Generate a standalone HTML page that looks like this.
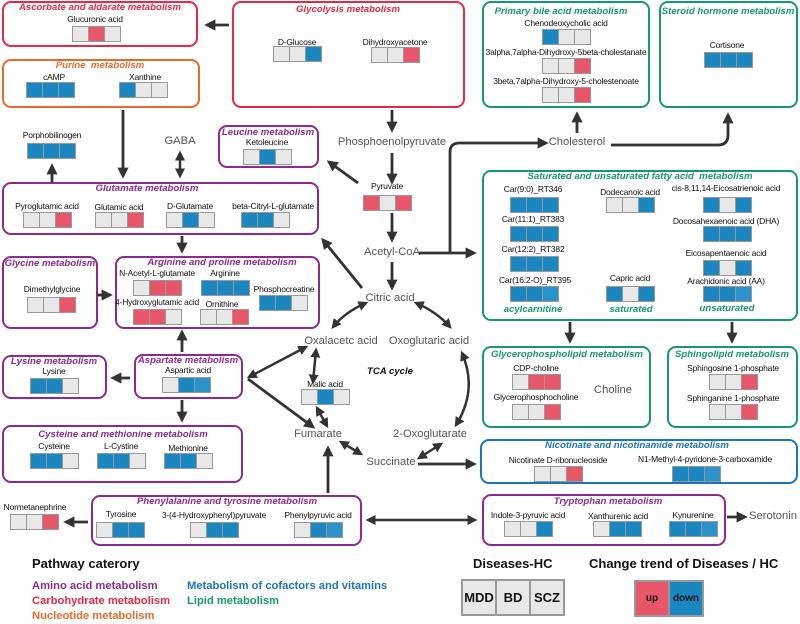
<!DOCTYPE html>
<html><head><meta charset="utf-8"><style>
*{margin:0;padding:0;box-sizing:border-box}
body{width:800px;height:624px;position:relative;background:#fff;font-family:"Liberation Sans",Arial,sans-serif;overflow:hidden}
.bx{position:absolute;border:2px solid;border-radius:9px}
.p{border-color:#8e2a8e}.r{border-color:#e62a45}.o{border-color:#e56a2c}.g{border-color:#16996b}.bl{border-color:#1b75bb}
.ti{position:absolute;transform:translateX(-50%);white-space:nowrap;font-weight:bold;font-style:italic;font-size:9.6px}
.cp{color:#8e2a8e}.cr{color:#e62a45}.co{color:#e56a2c}.cg{color:#16996b}.cb{color:#1b75bb}
.l{position:absolute;transform:translateX(-50%);white-space:nowrap;font-size:8.5px;color:#111;letter-spacing:-0.2px}
.m{position:absolute;transform:translateX(-50%);white-space:nowrap;font-size:11.2px;color:#555}
.t{position:absolute;display:flex;width:49px;height:16px;border:1px solid #999;background:#999;gap:1px}
.t i{flex:1;display:block}
.e{background:#e8e8e8}.d{background:#1a87c0}.u{background:#e8566a}.d2{background:#2b93cc}
.lg{position:absolute;font-weight:bold;font-size:11.2px;white-space:nowrap}
svg{position:absolute;left:0;top:0}
</style></head><body>
<div class="bx r" style="left:2px;top:1px;width:196px;height:46px"></div>
<div class="bx r" style="left:232px;top:1px;width:233px;height:107px"></div>
<div class="bx o" style="left:2px;top:59px;width:198px;height:49px"></div>
<div class="bx g" style="left:482px;top:1px;width:168px;height:107px"></div>
<div class="bx g" style="left:659px;top:1px;width:139px;height:107px"></div>
<div class="bx p" style="left:218px;top:125px;width:101px;height:43px"></div>
<div class="bx p" style="left:2px;top:182px;width:317px;height:53px"></div>
<div class="bx p" style="left:2px;top:256px;width:96px;height:73px"></div>
<div class="bx p" style="left:115px;top:256px;width:205px;height:73px"></div>
<div class="bx p" style="left:2px;top:355px;width:105px;height:44px"></div>
<div class="bx p" style="left:134px;top:354px;width:109px;height:45px"></div>
<div class="bx p" style="left:2px;top:425px;width:241px;height:58px"></div>
<div class="bx p" style="left:91px;top:495px;width:271px;height:51px"></div>
<div class="bx g" style="left:482px;top:170px;width:316px;height:151px"></div>
<div class="bx g" style="left:482px;top:346px;width:169px;height:82px"></div>
<div class="bx g" style="left:667px;top:346px;width:131px;height:82px"></div>
<div class="bx bl" style="left:480px;top:439px;width:318px;height:45px"></div>
<div class="bx p" style="left:482px;top:494px;width:244px;height:52px"></div>

<div class="ti cr" style="left:100px;top:2px">Ascorbate and aldarate metabolism</div>
<div class="ti cr" style="left:348px;top:4px">Glycolysis metabolism</div>
<div class="ti co" style="left:100px;top:60px">Purine&nbsp; metabolism</div>
<div class="ti cg" style="left:561px;top:6px">Primary bile acid metabolism</div>
<div class="ti cg" style="left:728px;top:6px">Steroid hormone metabolism</div>
<div class="ti cp" style="left:268px;top:127px">Leucine metabolism</div>
<div class="ti cp" style="left:147px;top:183px">Glutamate metabolism</div>
<div class="ti cp" style="left:50px;top:258px">Glycine metabolism</div>
<div class="ti cp" style="left:222px;top:257px">Arginine and proline metabolism</div>
<div class="ti cp" style="left:54px;top:356px">Lysine metabolism</div>
<div class="ti cp" style="left:188px;top:355px">Aspartate metabolism</div>
<div class="ti cp" style="left:123px;top:429px">Cysteine and methionine metabolism</div>
<div class="ti cp" style="left:227px;top:496px">Phenylalanine and tyrosine metabolism</div>
<div class="ti cg" style="left:640px;top:171px">Saturated and unsaturated fatty acid&nbsp; metabolism</div>
<div class="ti cg" style="left:567px;top:349px">Glycerophospholipid metabolism</div>
<div class="ti cg" style="left:732px;top:349px">Sphingolipid metabolism</div>
<div class="ti cb" style="left:637px;top:440px">Nicotinate and nicotinamide metabolism</div>
<div class="ti cp" style="left:608px;top:496px">Tryptophan metabolism</div>
<div class="ti cg" style="left:533px;top:304px">acylcarnitine</div>
<div class="ti cg" style="left:631px;top:304px">saturated</div>
<div class="ti cg" style="left:727px;top:303px">unsaturated</div>
<div class="ti" style="left:390px;top:366px;color:#111">TCA cycle</div>

<div class="l" style="left:95px;top:14px">Glucuronic acid</div><div class="t" style="left:72px;top:26px"><i class="e"></i><i class="u"></i><i class="e"></i></div>
<div class="l" style="left:297px;top:37px">D-Glucose</div><div class="t" style="left:273px;top:46px"><i class="e"></i><i class="e"></i><i class="d"></i></div>
<div class="l" style="left:395px;top:37px">Dihydroxyacetone</div><div class="t" style="left:371px;top:47px"><i class="e"></i><i class="e"></i><i class="u"></i></div>
<div class="l" style="left:54px;top:72px">cAMP</div><div class="t" style="left:26px;top:82px"><i class="d"></i><i class="d"></i><i class="d"></i></div>
<div class="l" style="left:145px;top:72px">Xanthine</div><div class="t" style="left:119px;top:82px"><i class="d"></i><i class="e"></i><i class="e"></i></div>
<div class="l" style="left:52px;top:130px">Porphobilinogen</div><div class="t" style="left:27px;top:143px"><i class="d"></i><i class="d"></i><i class="d"></i></div>
<div class="l" style="left:267px;top:137px">Ketoleucine</div><div class="t" style="left:243px;top:149px"><i class="e"></i><i class="d"></i><i class="e"></i></div>
<div class="l" style="left:47px;top:201px">Pyroglutamic acid</div><div class="t" style="left:23px;top:212px"><i class="e"></i><i class="e"></i><i class="u"></i></div>
<div class="l" style="left:119px;top:202px">Glutamic acid</div><div class="t" style="left:95px;top:212px"><i class="e"></i><i class="e"></i><i class="u"></i></div>
<div class="l" style="left:190px;top:201px">D-Glutamate</div><div class="t" style="left:166px;top:212px"><i class="e"></i><i class="d"></i><i class="e"></i></div>
<div class="l" style="left:273px;top:201px">beta-Citryl-L-glutamate</div><div class="t" style="left:241px;top:212px"><i class="d"></i><i class="d"></i><i class="e"></i></div>
<div class="l" style="left:157px;top:268px">N-Acetyl-L-glutamate</div><div class="t" style="left:133px;top:280px"><i class="e"></i><i class="u"></i><i class="u"></i></div>
<div class="l" style="left:225px;top:268px">Arginine</div><div class="t" style="left:201px;top:280px"><i class="d"></i><i class="d"></i><i class="d"></i></div>
<div class="l" style="left:284px;top:284px">Phosphocreatine</div><div class="t" style="left:259px;top:295px"><i class="d"></i><i class="d"></i><i class="e"></i></div>
<div class="l" style="left:157px;top:297px">4-Hydroxyglutamic acid</div><div class="t" style="left:133px;top:309px"><i class="u"></i><i class="u"></i><i class="e"></i></div>
<div class="l" style="left:222px;top:299px">Ornithine</div><div class="t" style="left:200px;top:309px"><i class="e"></i><i class="e"></i><i class="u"></i></div>
<div class="l" style="left:52px;top:284px">Dimethylglycine</div><div class="t" style="left:27px;top:297px"><i class="e"></i><i class="e"></i><i class="u"></i></div>
<div class="l" style="left:54px;top:366px">Lysine</div><div class="t" style="left:30px;top:378px"><i class="d"></i><i class="d"></i><i class="e"></i></div>
<div class="l" style="left:188px;top:365px">Aspartic acid</div><div class="t" style="left:162px;top:377px"><i class="e"></i><i class="d"></i><i class="d2"></i></div>
<div class="l" style="left:54px;top:441px">Cysteine</div><div class="t" style="left:30px;top:453px"><i class="d"></i><i class="d"></i><i class="e"></i></div>
<div class="l" style="left:121px;top:441px">L-Cystine</div><div class="t" style="left:97px;top:453px"><i class="d"></i><i class="d"></i><i class="e"></i></div>
<div class="l" style="left:188px;top:443px">Methionine</div><div class="t" style="left:164px;top:453px"><i class="d"></i><i class="d"></i><i class="e"></i></div>
<div class="l" style="left:121px;top:509px">Tyrosine</div><div class="t" style="left:96px;top:522px"><i class="e"></i><i class="d"></i><i class="d"></i></div>
<div class="l" style="left:214px;top:510px">3-(4-Hydroxyphenyl)pyruvate</div><div class="t" style="left:190px;top:522px"><i class="e"></i><i class="d"></i><i class="d"></i></div>
<div class="l" style="left:318px;top:510px">Phenylpyruvic acid</div><div class="t" style="left:294px;top:522px"><i class="e"></i><i class="d"></i><i class="d2"></i></div>
<div class="l" style="left:35px;top:502px">Normetanephrine</div><div class="t" style="left:10px;top:514px"><i class="e"></i><i class="e"></i><i class="u"></i></div>
<div class="l" style="left:387px;top:181px">Pyruvate</div><div class="t" style="left:363px;top:195px"><i class="u"></i><i class="e"></i><i class="u"></i></div>
<div class="l" style="left:325px;top:379px">Malic acid</div><div class="t" style="left:301px;top:389px"><i class="e"></i><i class="d"></i><i class="e"></i></div>

<div class="l" style="left:566px;top:18px">Chenodeoxycholic acid</div><div class="t" style="left:542px;top:29px"><i class="d"></i><i class="e"></i><i class="e"></i></div>
<div class="l" style="left:566px;top:47px">3alpha,7alpha-Dihydroxy-5beta-cholestanate</div><div class="t" style="left:542px;top:58px"><i class="e"></i><i class="e"></i><i class="u"></i></div>
<div class="l" style="left:566px;top:76px">3beta,7alpha-Dihydroxy-5-cholestenoate</div><div class="t" style="left:542px;top:87px"><i class="e"></i><i class="e"></i><i class="u"></i></div>
<div class="l" style="left:727px;top:40px">Cortisone</div><div class="t" style="left:704px;top:52px"><i class="d"></i><i class="d"></i><i class="d"></i></div>
<div class="l" style="left:533px;top:184px">Car(9:0)_RT346</div><div class="t" style="left:510px;top:197px"><i class="d"></i><i class="d"></i><i class="d"></i></div>
<div class="l" style="left:533px;top:214px">Car(11:1)_RT383</div><div class="t" style="left:510px;top:226px"><i class="d"></i><i class="d"></i><i class="d"></i></div>
<div class="l" style="left:533px;top:244px">Car(12:2)_RT382</div><div class="t" style="left:510px;top:256px"><i class="d"></i><i class="d"></i><i class="d"></i></div>
<div class="l" style="left:535px;top:275px">Car(16:2-O)_RT395</div><div class="t" style="left:510px;top:286px"><i class="d"></i><i class="d"></i><i class="d2"></i></div>
<div class="l" style="left:630px;top:187px">Dodecanoic acid</div><div class="t" style="left:606px;top:197px"><i class="e"></i><i class="e"></i><i class="d"></i></div>
<div class="l" style="left:630px;top:273px">Capric acid</div><div class="t" style="left:606px;top:286px"><i class="d"></i><i class="e"></i><i class="d"></i></div>
<div class="l" style="left:726px;top:183px">cis-8,11,14-Eicosatrienoic acid</div><div class="t" style="left:703px;top:197px"><i class="d"></i><i class="e"></i><i class="d"></i></div>
<div class="l" style="left:726px;top:216px">Docosahexaenoic acid (DHA)</div><div class="t" style="left:703px;top:226px"><i class="d"></i><i class="d"></i><i class="d"></i></div>
<div class="l" style="left:726px;top:248px">Eicosapentaenoic acid</div><div class="t" style="left:703px;top:260px"><i class="d"></i><i class="e"></i><i class="d"></i></div>
<div class="l" style="left:726px;top:276px">Arachidonic acid (AA)</div><div class="t" style="left:703px;top:286px"><i class="d"></i><i class="d"></i><i class="d2"></i></div>
<div class="l" style="left:536px;top:363px">CDP-choline</div><div class="t" style="left:512px;top:374px"><i class="e"></i><i class="u"></i><i class="u"></i></div>
<div class="l" style="left:536px;top:392px">Glycerophosphocholine</div><div class="t" style="left:512px;top:404px"><i class="e"></i><i class="e"></i><i class="u"></i></div>
<div class="l" style="left:733px;top:363px">Sphingosine 1-phosphate</div><div class="t" style="left:709px;top:374px"><i class="e"></i><i class="e"></i><i class="u"></i></div>
<div class="l" style="left:733px;top:393px">Sphinganine 1-phosphate</div><div class="t" style="left:709px;top:404px"><i class="e"></i><i class="e"></i><i class="u"></i></div>
<div class="l" style="left:558px;top:455px">Nicotinate D-ribonucleoside</div><div class="t" style="left:534px;top:466px"><i class="e"></i><i class="e"></i><i class="u"></i></div>
<div class="l" style="left:705px;top:454px">N1-Methyl-4-pyridone-3-carboxamide</div><div class="t" style="left:672px;top:466px"><i class="d"></i><i class="d"></i><i class="d2"></i></div>
<div class="l" style="left:528px;top:510px">Indole-3-pyruvic acid</div><div class="t" style="left:504px;top:521px"><i class="e"></i><i class="e"></i><i class="d"></i></div>
<div class="l" style="left:618px;top:511px">Xanthurenic acid</div><div class="t" style="left:593px;top:521px"><i class="e"></i><i class="d"></i><i class="d"></i></div>
<div class="l" style="left:693px;top:510px">Kynurenine</div><div class="t" style="left:669px;top:521px"><i class="d"></i><i class="d"></i><i class="d2"></i></div>

<div class="m" style="left:180px;top:135px">GABA</div>
<div class="m" style="left:392px;top:136px">Phosphoenolpyruvate</div>
<div class="m" style="left:392px;top:246px">Acetyl-CoA</div>
<div class="m" style="left:390px;top:292px">Citric acid</div>
<div class="m" style="left:341px;top:335px">Oxalacetc acid</div>
<div class="m" style="left:429px;top:335px">Oxoglutaric acid</div>
<div class="m" style="left:318px;top:428px">Fumarate</div>
<div class="m" style="left:430px;top:428px">2-Oxoglutarate</div>
<div class="m" style="left:391px;top:456px">Succinate</div>
<div class="m" style="left:577px;top:136px">Cholesterol</div>
<div class="m" style="left:613px;top:384px">Choline</div>
<div class="m" style="left:773px;top:510px">Serotonin</div>

<svg width="800" height="624" viewBox="0 0 800 624">
<defs><marker id="a" markerWidth="4" markerHeight="4" refX="3" refY="2" orient="auto-start-reverse" markerUnits="strokeWidth"><path d="M0,0L4,2L0,4z" fill="#333"/></marker></defs>
<g stroke="#333" stroke-width="2.8" fill="none" marker-end="url(#a)">
<path d="M229,25H207"/>
<path d="M123,110V176"/>
<path d="M52,182V166"/>
<path d="M392,110V130"/>
<path d="M392,153V182"/>
<path d="M358,183L329,162"/>
<path d="M392,213V240"/>
<path d="M392,262V288"/>
<path d="M362,288L323,240"/>
<path d="M419,253H474"/>
<path d="M450,253V152Q450,143 460,143H546"/>
<path d="M577,133V114"/>
<path d="M611,145H718Q728,145 728,135V115"/>
<path d="M182,236V251"/>
<path d="M98,295H110"/>
<path d="M182,352V332"/>
<path d="M130,378H113"/>
<path d="M182,400V420"/>
<path d="M248,379L313,427"/>
<path d="M328,493V448"/>
<path d="M88,522H66"/>
<path d="M727,517H745"/>
<path d="M570,322V341"/>
<path d="M732,322V341"/>
<path d="M418,464H474"/>
</g>
<g stroke="#333" stroke-width="2.5" fill="none" marker-end="url(#a)" marker-start="url(#a)">
<path d="M180,153V176"/>
<path d="M249,377L306,347"/>
<path d="M366,303Q345,312 333,327"/>
<path d="M416,303Q437,312 450,327"/>
<path d="M316,350L313,382"/>
<path d="M317,408L327,426"/>
<path d="M462,353Q478,390 456,425"/>
<path d="M341,442L361,454"/>
<path d="M419,458L441,444"/>
<path d="M368,520H475"/>
</g>
</svg>

<div class="lg" style="left:32px;top:556px;font-size:13px;color:#111">Pathway caterory</div>
<div class="lg" style="left:32px;top:580px;color:#8e2a8e">Amino acid metabolism</div>
<div class="lg" style="left:32px;top:595px;color:#e62a45">Carbohydrate metabolism</div>
<div class="lg" style="left:32px;top:610px;color:#e56a2c">Nucleotide metabolism</div>
<div class="lg" style="left:187px;top:580px;color:#1b75bb">Metabolism of cofactors and vitamins</div>
<div class="lg" style="left:187px;top:595px;color:#16996b">Lipid metabolism</div>
<div class="lg" style="left:473px;top:556px;font-size:13px;color:#111">Diseases-HC</div>
<div class="lg" style="left:589px;top:556px;font-size:13px;color:#111">Change trend of Diseases / HC</div>
<div style="position:absolute;left:461px;top:579px;width:104px;height:37px;border:2px solid #999;background:#999;display:flex;gap:2px;font-weight:bold;font-size:13px;color:#111">
<div style="flex:1;background:#e8e8e8;display:flex;align-items:center;justify-content:center">MDD</div>
<div style="flex:1;background:#e8e8e8;display:flex;align-items:center;justify-content:center">BD</div>
<div style="flex:1;background:#e8e8e8;display:flex;align-items:center;justify-content:center">SCZ</div></div>
<div style="position:absolute;left:634px;top:580px;width:70px;height:37px;border:2px solid #999;background:#999;display:flex;gap:2px;font-weight:bold;font-size:10px;color:#111">
<div style="flex:1;background:#e8566a;display:flex;align-items:center;justify-content:center">up</div>
<div style="flex:1;background:#1a87c0;display:flex;align-items:center;justify-content:center">down</div></div>
</body></html>
